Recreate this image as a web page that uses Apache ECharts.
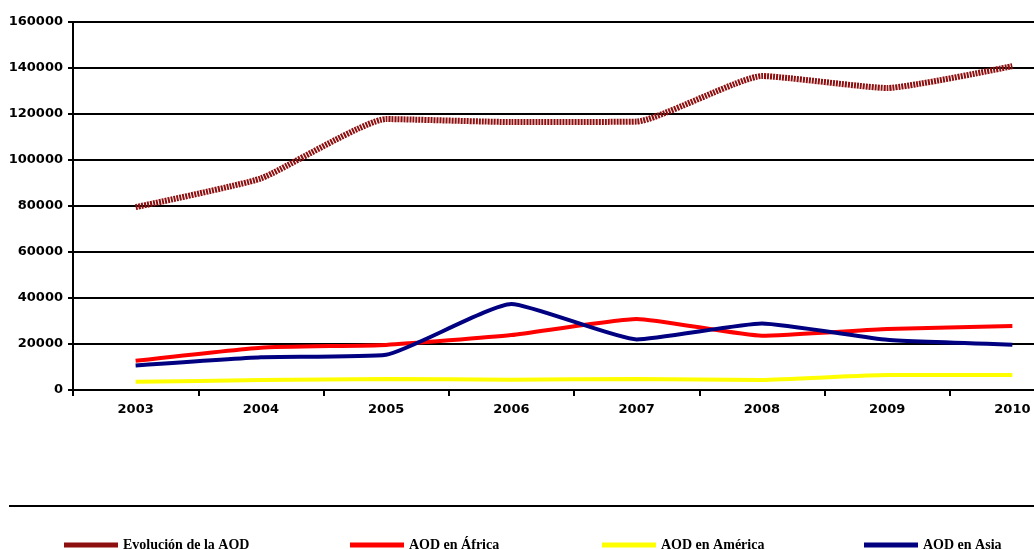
<!DOCTYPE html>
<html>
<head>
<meta charset="utf-8">
<script src="https://cdn.jsdelivr.net/npm/echarts@6/dist/echarts.min.js"></script>
<style>
  html, body { margin: 0; padding: 0; background: #fff; }
  #chart { width: 1034px; height: 549px; }
</style>
</head>
<body>
<div id="chart"></div>
<script>
// Años y montos de AOD
const years = ['2003', '2004', '2005', '2006', '2007', '2008', '2009', '2010'];
const aodTotal   = [79500, 92000, 117800, 116500, 116700, 136500, 131300, 140800];
const aodAfrica  = [12700, 18400, 19600, 23900, 30900, 23600, 26500, 27800];
const aodAmerica = [3600, 4300, 4800, 4500, 4800, 4400, 6500, 6500];
const aodAsia    = [10600, 14200, 15300, 37400, 22000, 28900, 21800, 19700];
const seriesNames = ['Evolución de la AOD', 'AOD en África', 'AOD en América', 'AOD en Asia'];

const axisFont = { fontFamily: 'DejaVu Sans', fontWeight: 'bold', fontSize: 13, color: '#000' };
const legendFont = { fontFamily: 'Liberation Serif', fontWeight: 'bold', fontSize: 14, color: '#000' };

function legendAt(name, left) {
  return {
    data: [name], left: left, top: 538, orient: 'horizontal',
    icon: 'rect', itemWidth: 54, itemHeight: 5, itemGap: 4, padding: 0,
    textStyle: legendFont, selectedMode: false
  };
}

const chart = echarts.init(document.getElementById('chart'), null, { renderer: 'canvas' });
chart.setOption({
  animation: false,
  backgroundColor: '#fff',
  // the plot runs past the right edge of the page, so the last category is cut
  grid: { left: 73, top: 22, width: 1002, height: 368, containLabel: false, outerBoundsMode: 'none' },
  xAxis: {
    type: 'category', data: years, boundaryGap: true,
    axisLine: { lineStyle: { color: '#000', width: 2 } },
    axisTick: { show: true, length: 6, lineStyle: { color: '#000', width: 2 } },
    axisLabel: Object.assign({ margin: 13 }, axisFont),
    splitLine: { show: false }
  },
  yAxis: {
    type: 'value', min: 0, max: 160000, interval: 20000,
    axisLine: { show: true, lineStyle: { color: '#000', width: 2 } },
    axisTick: { show: true, length: 5, lineStyle: { color: '#000', width: 2 } },
    axisLabel: Object.assign({ margin: 10, formatter: v => String(v) }, axisFont),
    splitLine: { show: true, lineStyle: { color: '#000', width: 2 } }
  },
  legend: [
    legendAt(seriesNames[0], 64),
    legendAt(seriesNames[1], 350),
    legendAt(seriesNames[2], 602),
    legendAt(seriesNames[3], 864)
  ],
  graphic: [{
    type: 'line', silent: true,
    shape: { x1: 9, y1: 506, x2: 1034, y2: 506 },
    style: { stroke: '#000', lineWidth: 2 }
  }],
  series: [
    {
      name: seriesNames[0], type: 'line', data: aodTotal, smooth: 0.15,
      symbol: 'none', color: '#8e0f0f',
      lineStyle: { color: '#8e0f0f', width: 6, type: [2, 1] }
    },
    {
      name: seriesNames[1], type: 'line', data: aodAfrica, smooth: 0.15,
      symbol: 'none', color: '#ff0000',
      lineStyle: { color: '#ff0000', width: 4 }
    },
    {
      name: seriesNames[2], type: 'line', data: aodAmerica, smooth: 0.15,
      symbol: 'none', color: '#ffff00',
      lineStyle: { color: '#ffff00', width: 4 }
    },
    {
      name: seriesNames[3], type: 'line', data: aodAsia, smooth: 0.15,
      symbol: 'none', color: '#000080',
      lineStyle: { color: '#000080', width: 4 }
    }
  ]
});
</script>
</body>
</html>
